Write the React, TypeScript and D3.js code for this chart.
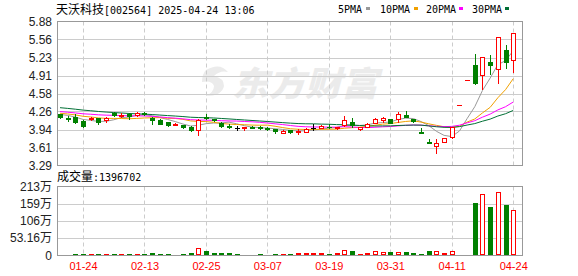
import React from 'react';
import * as d3 from 'd3';

const title = '天沃科技';
const titleCode = '[002564] 2025-04-24 13:06';

const dates = [
  '01-21','01-22','01-23','01-24','01-27','02-05','02-06','02-07','02-10','02-11','02-12','02-13',
  '02-14','02-17','02-18','02-19','02-20','02-21','02-24','02-25',
  '02-26','02-27','02-28','03-03','03-04','03-05','03-06','03-07',
  '03-10','03-11','03-12','03-13','03-14','03-17','03-18','03-19',
  '03-20','03-21','03-24','03-25','03-26','03-27','03-28','03-31',
  '04-01','04-02','04-03','04-07','04-08','04-09','04-10','04-11',
  '04-14','04-15','04-17','04-18','04-21','04-22','04-23','04-24'
];

const opens = [
  4.21,4.14,4.16,4.09,4.13,4.14,4.10,4.24,4.18,4.22,4.19,4.23,
  4.15,4.10,4.07,4.02,4.01,3.99,3.93,4.16,
  4.12,4.06,4.00,3.96,3.96,3.99,3.99,3.97,
  3.94,3.88,3.92,3.90,3.90,3.97,3.97,3.99,
  3.96,4.02,4.08,3.94,3.99,4.06,4.10,4.12,
  4.12,4.19,4.12,3.89,3.71,3.64,3.72,3.80,
  4.38,4.82,5.10,4.92,5.16,5.03,5.36,5.19
];
const highs = [
  4.22,4.18,4.21,4.10,4.17,4.15,4.17,4.25,4.23,4.23,4.26,4.25,
  4.16,4.12,4.08,4.05,4.02,4.00,4.12,4.21,
  4.13,4.07,4.04,4.00,3.99,4.00,4.00,3.98,
  3.95,3.92,3.93,3.95,3.96,4.04,4.01,4.03,
  3.99,4.18,4.14,3.99,4.05,4.14,4.17,4.13,
  4.25,4.27,4.13,3.96,3.76,3.76,3.79,3.98,
  4.38,4.82,5.30,5.25,5.27,5.60,5.45,5.67
];
const lows = [
  4.15,4.09,4.06,3.99,4.10,4.04,4.08,4.18,4.17,4.13,4.18,4.20,
  4.03,4.03,4.00,4.01,3.97,3.91,3.83,4.12,
  4.09,3.98,3.97,3.93,3.93,3.96,3.95,3.93,
  3.88,3.87,3.88,3.86,3.89,3.92,3.96,3.97,
  3.95,4.00,3.99,3.93,3.98,4.05,4.08,4.05,
  4.08,4.16,4.08,3.88,3.70,3.51,3.71,3.79,
  4.38,4.82,4.76,4.67,4.93,4.77,5.04,4.97
];
const closes = [
  4.17,4.13,4.07,4.00,4.14,4.07,4.15,4.20,4.20,4.18,4.23,4.21,
  4.10,4.04,4.01,4.04,3.99,3.92,4.11,4.15,
  4.10,4.00,3.99,3.96,3.98,3.97,3.96,3.94,
  3.91,3.91,3.89,3.91,3.95,3.97,4.00,3.98,
  3.98,4.10,4.01,3.98,4.04,4.13,4.15,4.06,
  4.21,4.16,4.09,3.88,3.70,3.70,3.79,3.98,
  4.38,4.82,4.77,5.25,5.09,5.60,5.16,5.67
];
const volumes = [
  30000,30000,60000,60000,60000,60000,60000,60000,60000,60000,60000,60000,
  90000,60000,60000,30000,60000,90000,236000,134000,
  80000,90000,90000,60000,30000,30000,60000,30000,
  60000,60000,60000,82000,80000,80000,80000,60000,
  90000,175000,154000,60000,90000,144000,123000,103000,
  123000,100000,72000,40000,134000,154000,92000,154000,
  20000,20000,1610000,1880000,1490000,1970000,1550000,1396702
];
// closes of the 29 sessions before the first visible bar (feed the moving averages)
const historyCloses = [
  4.52,4.50,4.49,4.48,4.47,4.46,4.46,4.45,4.44,4.43,
  4.36,4.33,4.31,4.30,4.28,4.27,4.28,4.27,4.26,4.24,
  4.26,4.24,4.25,4.26,4.24,
  4.23,4.21,4.22,4.22
];

const maPeriods = [5, 10, 20, 30];
const maNames = ['5PMA', '10PMA', '20PMA', '30PMA'];
const maColors = ['#999999', '#f0a000', '#ff00ff', '#006f35'];
const legendX = [338, 380, 426, 472];
const swatchX = [366, 414, 459, 505];

const xTickDates = ['01-24', '02-13', '02-25', '03-07', '03-19', '03-31', '04-11', '04-24'];
const priceDomain = [3.29, 5.88];
const volMax = 2126400;
const volTickLabels = ['0', '53.16万', '106万', '159万', '213万'];

const W = 578, H = 276;
const PL = 57.5, PR = 522.5, PT = 21.5, PB = 165.5;
const VT = 186.5, VB = 255.5;
const RED = '#ff0000', GREEN = '#008000';
const MONO = "'DejaVu Sans Mono', monospace";
const CJK = "'Noto Sans CJK SC', sans-serif";
const SANS = "'Liberation Sans', 'Noto Sans CJK SC', sans-serif";

export default function App() {
  const n = dates.length;
  const x = d3.scaleLinear().domain([0, n - 1]).range([60, 513.2]);
  const y = d3.scaleLinear().domain(priceDomain).range([PB, PT]);
  const yv = d3.scaleLinear().domain([0, volMax]).range([VB, VT]);

  const priceTicks = d3.range(9).map(k => priceDomain[0] + (k * (priceDomain[1] - priceDomain[0])) / 8);
  const volTicks = d3.range(5).map(k => (k * volMax) / 4);

  const all = historyCloses.concat(closes);
  const h = historyCloses.length;
  const mas = maPeriods.map(p =>
    closes.map((_, i) => {
      const end = h + i + 1;
      const start = end - p;
      return start >= 0 ? (d3.mean(all.slice(start, end)) as number) : null;
    })
  );
  const line = d3
    .line<number | null>()
    .defined(d => d != null)
    .x((_, i) => x(i))
    .y(d => y(d as number));

  const colorOf = (i: number) => {
    if (closes[i] > opens[i]) return RED;
    if (closes[i] < opens[i]) return GREEN;
    if (highs[i] === lows[i]) {
      const prev = i > 0 ? closes[i - 1] : closes[i];
      return closes[i] >= prev ? RED : GREEN;
    }
    return '#000000';
  };
  const volColor = (i: number) => {
    const c = colorOf(i);
    return c === '#000000' ? (i > 0 && closes[i] < closes[i - 1] ? GREEN : RED) : c;
  };

  const tickIdx = xTickDates.map(d => dates.indexOf(d));

  return (
    <svg width={W} height={H} style={{ display: 'block', position: 'absolute', left: 0, top: 0, background: '#fff' }}>
      <defs>
        <clipPath id="pclip">
          <rect x={PL} y={PT} width={PR - PL} height={PB - PT} />
        </clipPath>
      </defs>

      {/* header */}
      <text x={56} y={13.5} fontSize={12} fill="#000">
        <tspan fontFamily={CJK}>{title}</tspan>
        <tspan x={104} fontFamily={MONO} fontSize={10}>{titleCode}</tspan>
      </text>
      {maNames.map((m, k) => (
        <g key={m}>
          <text x={legendX[k]} y={13} fontFamily={MONO} fontSize={10} fill="#000">{m}</text>
          <rect x={swatchX[k]} y={7} width={4} height={3} fill={maColors[k]} />
        </g>
      ))}

      {/* watermark */}
      <g fill="#ebebeb" opacity={1}>
        <path d="M206 70 q14 -8 22 2 q-8 -2 -14 4 q10 2 10 10 q-2 10 -18 10 q8 -4 8 -10 q-2 -6 -12 -4 q0 -8 4 -12z" />
        <text x={232} y={96} fontFamily={CJK} fontSize={34} fontWeight={900} fontStyle="italic" textLength={146} lengthAdjust="spacingAndGlyphs">东方财富</text>
      </g>

      {/* price grid */}
      {priceTicks.slice(1, -1).map((v, k) => (
        <line key={k} x1={PL} x2={PR} y1={Math.round(y(v)) + 0.5} y2={Math.round(y(v)) + 0.5} stroke="#cccccc" />
      ))}
      {tickIdx.map(i => (
        <line key={'pv' + i} x1={Math.round(x(i)) + 0.5} x2={Math.round(x(i)) + 0.5} y1={PT} y2={PB} stroke="#cccccc" strokeDasharray="4,3" />
      ))}
      {priceTicks.map((v, k) => (
        <text key={'pl' + k} x={52} y={y(v) + 4} textAnchor="end" fontFamily={SANS} fontSize={12} fill="#222">{v.toFixed(2)}</text>
      ))}

      {/* MA lines */}
      <g clipPath="url(#pclip)" fill="none">
        {mas.map((m, k) => (
          <path key={k} d={line(m) || ''} stroke={maColors[k]} strokeWidth={1} />
        ))}
      </g>

      {/* candles */}
      <g clipPath="url(#pclip)">
        {closes.map((c, i) => {
          const cx = Math.round(x(i));
          const col = colorOf(i);
          const yo = Math.round(y(opens[i]));
          const yc = Math.round(y(c));
          const yh = Math.round(y(highs[i]));
          const yl = Math.round(y(lows[i]));
          const top = Math.min(yo, yc);
          const bot = Math.max(yo, yc);
          return (
            <g key={i}>
              {yl > yh && <line x1={cx + 0.5} x2={cx + 0.5} y1={yh} y2={yl + 1} stroke={col} />}
              {col === RED && bot - top >= 2 ? (
                <rect x={cx - 1.5} y={top + 0.5} width={4} height={bot - top} fill="#fff" stroke={col} />
              ) : bot - top >= 2 ? (
                <rect x={cx - 2} y={top} width={5} height={bot - top + 1} fill={col} />
              ) : (
                <rect x={cx - 2} y={top} width={5} height={bot - top + 1} fill={col} />
              )}
            </g>
          );
        })}
      </g>

      {/* plot frame */}
      <rect x={PL} y={PT} width={PR - PL} height={PB - PT} fill="none" stroke="#999" />

      {/* volume title */}
      <text x={57} y={181} fontSize={12} fill="#000">
        <tspan fontFamily={CJK}>成交量</tspan>
        <tspan x={93} fontFamily={MONO} fontSize={10}>:{volumes[volumes.length - 1]}</tspan>
      </text>

      {/* volume grid */}
      {volTicks.slice(1, -1).map((v, k) => (
        <line key={'vg' + k} x1={PL} x2={PR} y1={Math.round(yv(v)) + 0.5} y2={Math.round(yv(v)) + 0.5} stroke="#cccccc" />
      ))}
      {tickIdx.map(i => (
        <line key={'vv' + i} x1={Math.round(x(i)) + 0.5} x2={Math.round(x(i)) + 0.5} y1={VT} y2={VB} stroke="#cccccc" strokeDasharray="4,3" />
      ))}
      {volTicks.map((v, k) => (
        <text key={'vl' + k} x={52} y={yv(v) + 4} textAnchor="end" fontFamily={SANS} fontSize={12} fill="#222">{volTickLabels[k]}</text>
      ))}

      {/* volume bars */}
      {volumes.map((v, i) => {
        const cx = Math.round(x(i));
        const col = volColor(i);
        const yt = Math.round(yv(v));
        const hgt = Math.round(VB - 0.5) - yt;
        return col === RED && hgt >= 3 ? (
          <rect key={'vb' + i} x={cx - 1.5} y={yt + 0.5} width={4} height={hgt - 1} fill="#fff" stroke={col} />
        ) : (
          <rect key={'vb' + i} x={cx - 2} y={yt} width={5} height={Math.max(1, hgt)} fill={col} />
        );
      })}

      <rect x={PL} y={VT} width={PR - PL} height={VB - VT} fill="none" stroke="#999" />

      {/* x labels */}
      {tickIdx.map((i, k) => (
        <text key={'xl' + k} x={x(i) + 0.5} y={269.5} textAnchor="middle" fontFamily={SANS} fontSize={11} fill={RED}>{xTickDates[k]}</text>
      ))}
    </svg>
  );
}
